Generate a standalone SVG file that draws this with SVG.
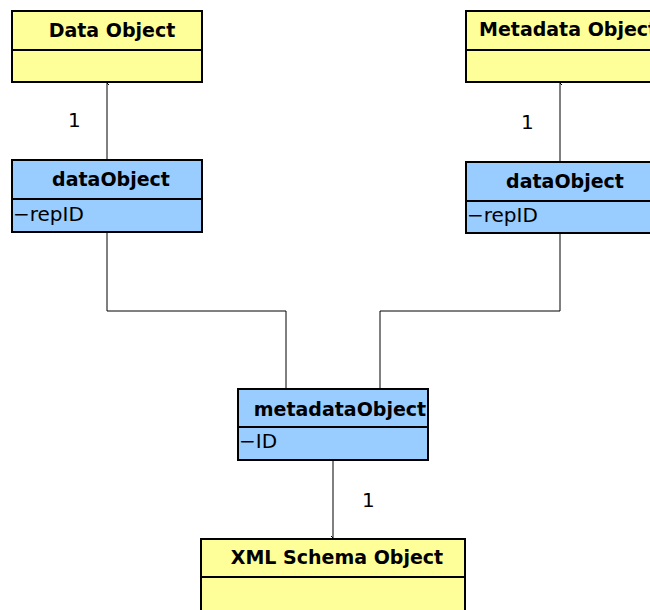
<svg xmlns="http://www.w3.org/2000/svg" width="650" height="610" viewBox="0 0 650 610">
  <style>
    .box { stroke: #000; stroke-width: 2; }
    .cls { fill: #FFFF99; }
    .attr { fill: #99CCFF; }
    .div { stroke: #000; stroke-width: 2; }
    .title { font-family: "DejaVu Sans", "Liberation Sans", sans-serif; font-weight: bold; font-size: 19px; fill: #000; }
    .field { font-family: "DejaVu Sans", "Liberation Sans", sans-serif; font-size: 20px; fill: #000; }
    .mult { font-family: "DejaVu Sans", "Liberation Sans", sans-serif; font-size: 20px; fill: #000; }
    .wire { fill: none; stroke: #000; stroke-width: 1; }
  </style>
  <defs>
    <marker id="tip" markerWidth="8" markerHeight="8" refX="4" refY="1" orient="auto-start-reverse" markerUnits="userSpaceOnUse">
      <path d="M2,3 L4,1" fill="none" stroke="#000" stroke-width="1"/>
    </marker>
  </defs>

  <rect width="650" height="610" fill="#fff"/>

  <g id="connectors">
    <line class="wire" x1="107" y1="160" x2="107" y2="83" marker-end="url(#tip)"/>
    <line class="wire" x1="560" y1="162" x2="560" y2="83" marker-end="url(#tip)"/>
    <line class="wire" x1="333" y1="461" x2="333" y2="538" marker-end="url(#tip)"/>
    <polyline class="wire" points="107,233 107,311 286,311 286,389"/>
    <polyline class="wire" points="560,234 560,311 380,311 380,389"/>
    <text class="mult" x="68" y="127">1</text>
    <text class="mult" x="521" y="129">1</text>
    <text class="mult" x="362" y="507">1</text>
  </g>

  <g id="data-object">
    <rect class="box cls" x="12" y="11" width="190" height="71"/>
    <line class="div" x1="12" y1="50" x2="202" y2="50"/>
    <text class="title" x="112" y="37" text-anchor="middle">Data Object</text>
  </g>

  <g id="metadata-object">
    <rect class="box cls" x="466" y="11" width="200" height="71"/>
    <line class="div" x1="466" y1="50" x2="666" y2="50"/>
    <text class="title" x="479" y="36">Metadata Object</text>
  </g>

  <g id="data-object-left">
    <rect class="box attr" x="12" y="160" width="190" height="72"/>
    <line class="div" x1="12" y1="199" x2="202" y2="199"/>
    <text class="title" x="111" y="186" text-anchor="middle">dataObject</text>
    <text class="field" x="13" y="221">−repID</text>
  </g>

  <g id="data-object-right">
    <rect class="box attr" x="466" y="162" width="200" height="71"/>
    <line class="div" x1="466" y1="201" x2="666" y2="201"/>
    <text class="title" x="565" y="188" text-anchor="middle">dataObject</text>
    <text class="field" x="467" y="222">−repID</text>
  </g>

  <g id="metadata-object-ref">
    <rect class="box attr" x="238" y="389" width="190" height="71"/>
    <line class="div" x1="238" y1="427" x2="428" y2="427"/>
    <text class="title" x="340" y="416" text-anchor="middle">metadataObject</text>
    <text class="field" x="239" y="448">−ID</text>
  </g>

  <g id="xml-schema-object">
    <rect class="box cls" x="201" y="539" width="264" height="80"/>
    <line class="div" x1="201" y1="577" x2="465" y2="577"/>
    <text class="title" x="337" y="564" text-anchor="middle">XML Schema Object</text>
  </g>
</svg>
